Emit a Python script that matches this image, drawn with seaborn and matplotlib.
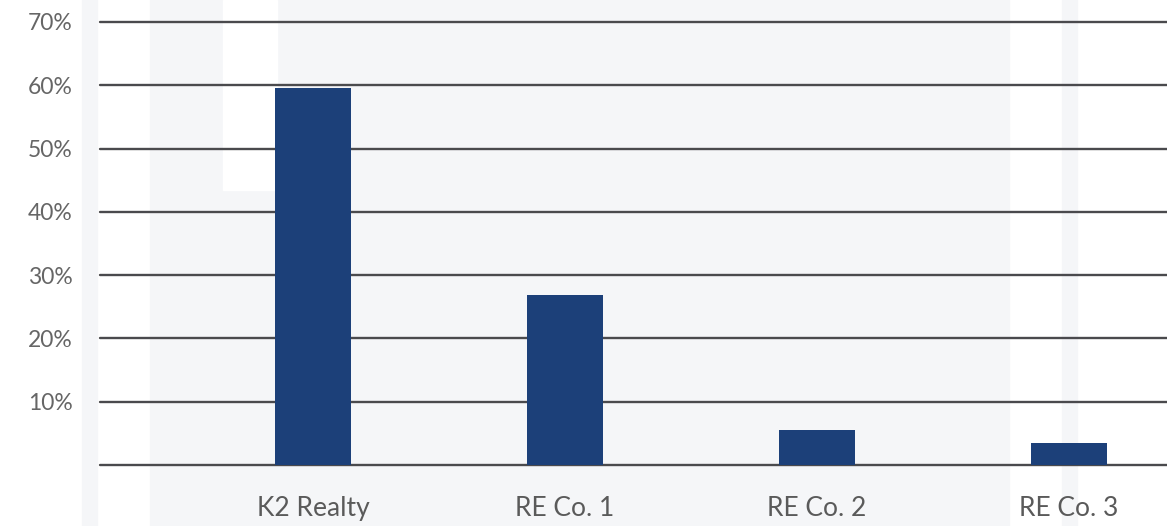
import matplotlib.pyplot as plt
import matplotlib.patches as mpatches
import pandas as pd
import seaborn as sns

# Share values (percent)
companies = ['K2 Realty', 'RE Co. 1', 'RE Co. 2', 'RE Co. 3']
share = [59.6, 26.8, 5.5, 3.5]
y_ticks = [0, 10, 20, 30, 40, 50, 60, 70]
y_labels = ['', '10%', '20%', '30%', '40%', '50%', '60%', '70%']

df = pd.DataFrame({'company': companies, 'share': share})

sns.set_theme(style='white')
plt.rcParams['font.family'] = ['Lato', 'DejaVu Sans']

fig = plt.figure(figsize=(11.67, 5.26), dpi=100)
fig.patch.set_facecolor('white')

# faint watermark shapes behind the chart
W, H = 1167, 526
wm = '#f5f6f8'
for x0, x1, y0, y1 in [(82, 97, 0, 526), (150, 1009, 0, 526), (1062, 1077, 0, 526)]:
    fig.patches.append(mpatches.Rectangle((x0 / W, 1 - y1 / H), (x1 - x0) / W, (y1 - y0) / H,
                                          transform=fig.transFigure, color=wm, zorder=-5))
fig.patches.append(mpatches.Rectangle((223 / W, 1 - 190 / H), 54 / W, 190 / H,
                                      transform=fig.transFigure, color='white', zorder=-4))

ax = fig.add_axes([100 / W, 61 / H, 1 - 100 / W, 443 / H])
ax.patch.set_alpha(0)

sns.barplot(data=df, x='company', y='share', color='#1c4079', saturation=1,
            width=0.3, linewidth=0, ax=ax, zorder=3)

ax.set_xlim(-0.845, 3.39)
ax.set_ylim(0, 70)
ax.set_yticks(y_ticks)
ax.set_yticklabels(y_labels)
ax.set_xlabel('')
ax.set_ylabel('')

ax.yaxis.grid(True, color='#4a4a4d', linewidth=1.7)
for gl in ax.get_ygridlines():
    gl.set_clip_on(False)
ax.xaxis.grid(False)

for s in ax.spines.values():
    s.set_visible(False)

ax.tick_params(axis='y', length=0, pad=19.5, labelsize=16.5, labelcolor='#666666')
ax.tick_params(axis='x', length=0, pad=22, labelsize=19, labelcolor='#5a5a5a')

fig.savefig('out.png', dpi=100)
